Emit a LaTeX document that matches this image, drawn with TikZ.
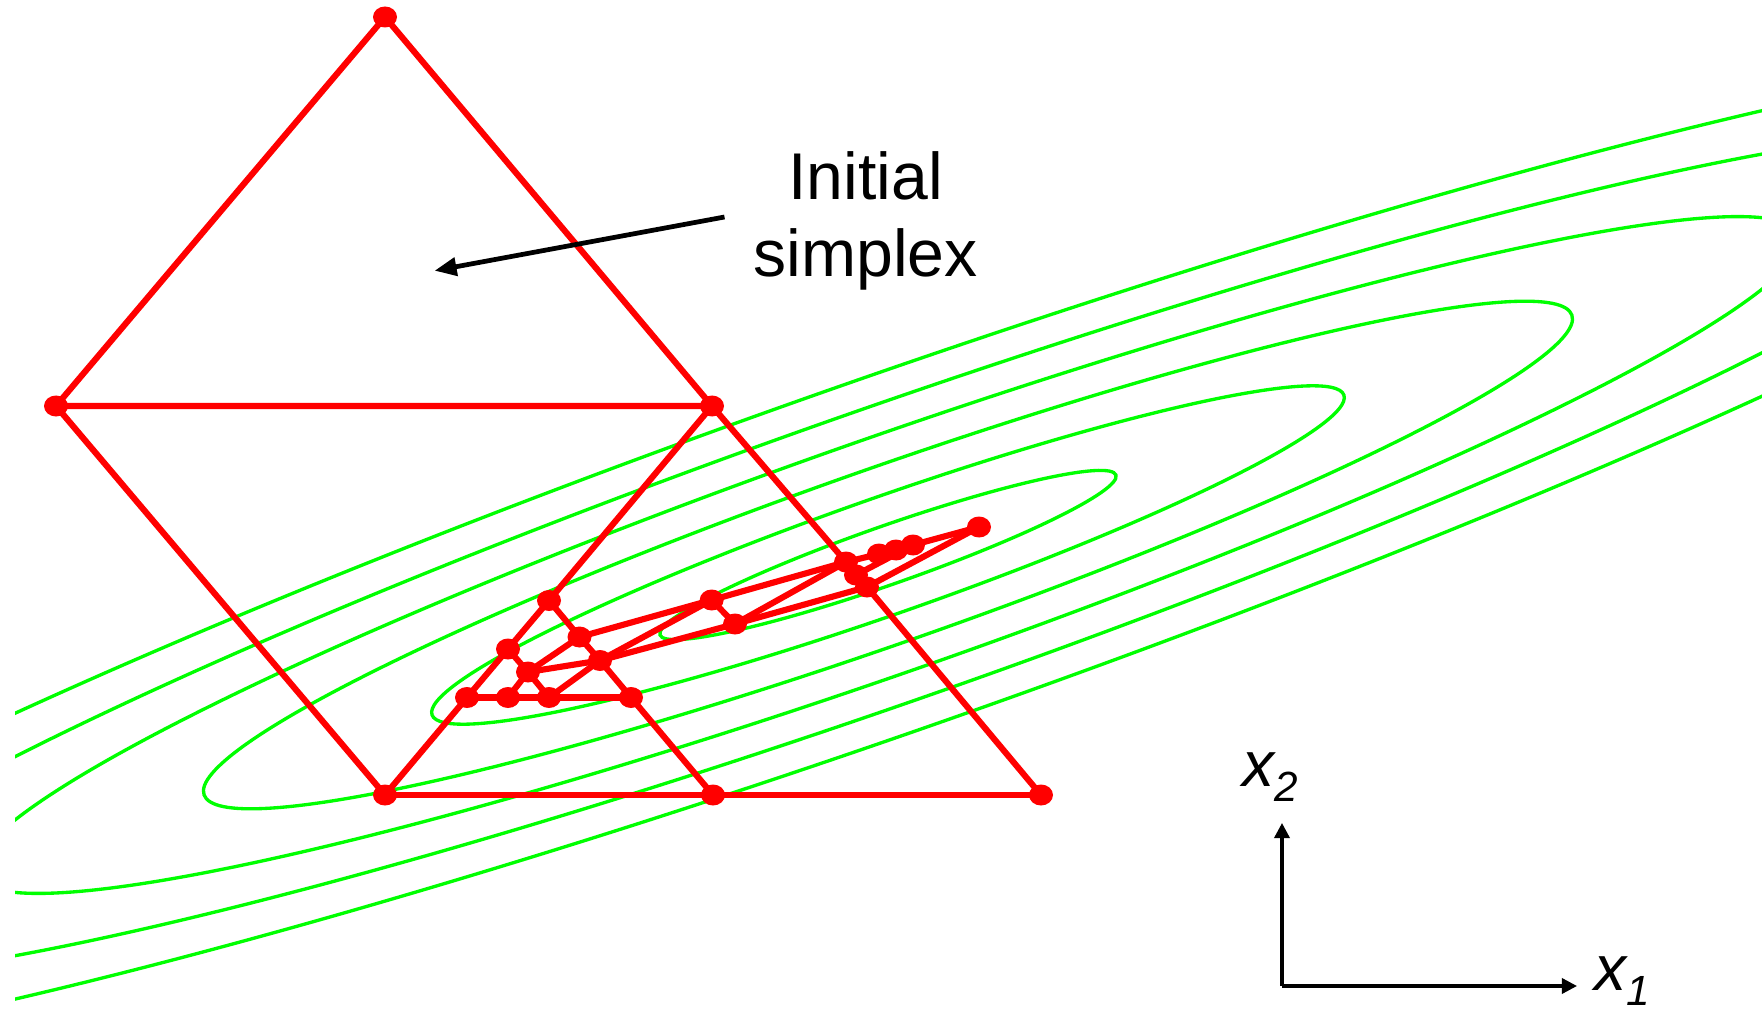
\documentclass[tikz,border=0pt]{standalone}
\usepackage{fontspec}
\setmainfont{Liberation Sans}
\usetikzlibrary{arrows.meta}

\definecolor{cgreen}{RGB}{0,255,0}
\definecolor{cred}{RGB}{255,0,0}
\newcommand{\lowidx}[1]{\raisebox{-4.5pt}{\fontsize{12pt}{12pt}\selectfont #1}}

\begin{document}
\begin{tikzpicture}[
    x=0.01cm, y=0.01cm,
    contour/.style={draw=cgreen, line width=0.95pt},
    simplexline/.style={draw=cred, line width=1.75pt, line join=round},
    vtx/.style={fill=cred},
    pointer/.style={-{Triangle[length=0.22cm,width=0.18cm]}, line width=1.35pt},
    axis/.style={-{Triangle[length=0.15cm,width=0.15cm]}, line width=0.95pt},
    lbl/.style={inner sep=0pt, font=\fontsize{18.8pt}{21.9pt}\selectfont},
    axlbl/.style={inner sep=0pt, font=\fontsize{18.2pt}{20pt}\selectfont\itshape}
]

\useasboundingbox (0,0) rectangle (1762,1011);

\coordinate (ctr) at (888,456);

\begin{scope}
\clip (15,0) rectangle (1762,1011);
\foreach \k in {1,...,6}
  \draw[contour, rotate around={19.33:(ctr)}] (ctr) ellipse ({241.6*\k} and {29.2*\k});
\end{scope}

\coordinate (v1) at (385,994);
\coordinate (v2) at (56,605);
\coordinate (v3) at (712,605);
\coordinate (v4) at (385,216);
\coordinate (v5) at (1041,216);
\coordinate (v6) at (713,216);
\coordinate (v7) at (549,410.5);
\coordinate (v8) at (467,313.5);
\coordinate (v9) at (631,313.5);
\coordinate (v10) at (549,313.5);
\coordinate (v11) at (508,313.5);
\coordinate (v12) at (508,362);
\coordinate (v13) at (528,339);
\coordinate (v14) at (579.5,374);
\coordinate (v15) at (600,350.5);
\coordinate (v16) at (711.7,411);
\coordinate (v17) at (735,387);
\coordinate (v18) at (846,449);
\coordinate (v19) at (867,424);
\coordinate (v20) at (856,436);
\coordinate (v21) at (979,484);
\coordinate (v22) at (879,457);
\coordinate (v23) at (896,461);
\coordinate (v24) at (913,466);

\draw[simplexline] (v1) -- (v2) -- (v3) -- cycle;
\draw[simplexline] (v2) -- (v4);
\draw[simplexline] (v3) -- (v7) -- (v12) -- (v8) -- (v4);
\draw[simplexline] (v4) -- (v6) -- (v5);
\draw[simplexline] (v3) -- (v18) -- (v20) -- (v19) -- (v5);
\draw[simplexline] (v7) -- (v14) -- (v15) -- (v9) -- (v6);
\draw[simplexline] (v8) -- (v11) -- (v10) -- (v9);

\draw[simplexline] (v12) -- (v13) -- (v10);
\draw[simplexline] (v11) -- (v13);
\draw[simplexline] (v13) -- (v14);
\draw[simplexline] (v13) -- (v15);
\draw[simplexline] (v10) -- (v15);

\draw[simplexline] (v14) -- (v16);
\draw[simplexline] (v15) -- (v16);
\draw[simplexline] (v15) -- (v17);
\draw[simplexline] (v16) -- (v17);
\draw[simplexline] (v16) -- (v18);
\draw[simplexline] (v17) -- (v18);
\draw[simplexline] (v17) -- (v19);

\draw[simplexline] (v18) -- (v22) -- (v23) -- (v24) -- (v21);
\draw[simplexline] (v19) -- (v21);
\draw[simplexline] (v20) -- (v24);

\foreach \p in {v1,v2,v3,v4,v5,v6,v7,v8,v9,v10,v11,v12,v13,v14,v15,v16,v17,v18,v19,v20,v21,v22,v23,v24}
  \fill[vtx] (\p) ellipse (12 and 10.5);

\node[lbl, align=center, anchor=west, inner xsep=0.285cm] (note) at (724.5,790) {Initial\\simplex};
\coordinate (aim) at (434.6,740.3);
\draw[pointer] ([yshift=0.04cm]note.west) -- (aim);

\coordinate (origin) at (1282,25);
\coordinate (x2end) at (1282,188);
\coordinate (x1end) at (1577,25);
\draw[axis] (origin) -- (x2end);
\draw[axis] (origin) -- (x1end);

\node[axlbl, anchor=base west] (x2lbl) at (1242,225) {x\lowidx{2}};
\node[axlbl, anchor=base west] (x1lbl) at (1594,21) {x\lowidx{1}};

\end{tikzpicture}
\end{document}
